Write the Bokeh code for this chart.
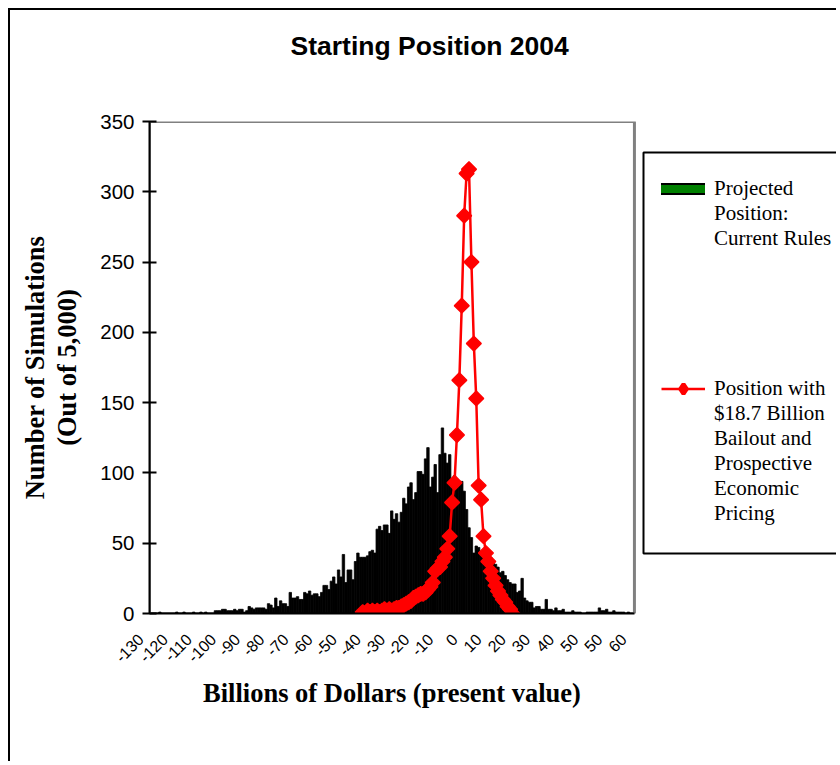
from math import pi
from bokeh.plotting import figure
from bokeh.models import (FixedTicker, Legend, LegendItem, Label, Range1d, BoxAnnotation)
from bokeh.embed import file_html
from bokeh.resources import INLINE

NAN = float("nan")

# ---- data ----
bins = list(range(-123, 73))
current_rules = [
    0, 1, 0, 0, 0, 0, 0, 0, 1, 0, 0, 1, 0, 0, 0, 1, 0, 0, 1, 0,        # -123 .. -104
    1, 0, 0, 0, 2, 2, 2, 3, 3, 2, 2, 2, 3, 2, 3, 3, 1, 2, 5, 4,        # -103 .. -84
    3, 4, 4, 4, 4, 3, 7, 6, 4, 11, 5, 9, 7, 7, 5, 15, 11, 11, 12, 10,  # -83 .. -64
    10, 15, 14, 16, 13, 14, 14, 12, 15, 20, 20, 17, 23, 26, 21, 31,    # -63 .. -48
    26, 42, 22, 31, 31, 24, 37, 43, 40, 40, 40, 41, 44, 45, 43, 60,    # -47 .. -32
    62, 59, 63, 63, 57, 73, 67, 71, 65, 72, 82, 78, 90, 93, 81, 86,    # -31 .. -16
    101, 101, 99, 110, 118, 90, 97, 106, 86, 113, 132, 114, 107, 113, 96,  # -15 .. -1
    98, 92, 94, 94, 87, 74, 61, 54, 43, 48, 47, 44, 42, 42, 40, 40,    # 0 .. 15
    36, 35, 33, 29, 30, 27, 24, 22, 21, 21, 15, 16, 25, 11, 9, 8,      # 16 .. 31
    8, 4, 5, 5, 3, 3, 10, 3, 3, 2, 4, 2, 2, 3, 1, 1,                   # 32 .. 47
    1, 2, 1, 1, 1, 0, 0, 1, 1, 1, 1, 1, 4, 2, 2, 3,                    # 48 .. 63
    1, 1, 2, 1, 1, 1, 1, 0, 1,                                         # 64 .. 72
]
bailout_x = list(range(-38, 25))
bailout_y = [
    1, 0, 2, 1, 2, 1, 2, 1, 2, 3, 2, 3, 2, 3, 4, 4, 5, 6, 7, 8, 9, 11,  # -38 .. -17
    12, 13, 14, 14, 15, 17, 19, 22, 30, 32, 33, 37, 40, 46, 55, 79,     # -16 .. -1
    93, 127, 166, 219, 283, 313, 316, 250, 192, 153, 91, 81, 55, 43,    # 0 .. 13
    37, 30, 25, 20, 16, 13, 10, 8, 5, 3, 0,                             # 14 .. 24
]
tick_values = list(range(-130, 71, 10))
tick_labels = ["-130", "-120", "-110", "-100", "-90", "-80", "-70", "-60", "-50", "-40",
               "-30", "-20", "-10", "0", "10", "20", "30", "40", "50", "50", "60"]
y_ticks = [0, 50, 100, 150, 200, 250, 300, 350]
legend_lines_1 = ["Projected", "Position:", "Current Rules"]
legend_lines_2 = ["Position with", "$18.7 Billion", "Bailout and", "Prospective",
                  "Economic", "Pricing"]

SANS = "Liberation Sans"
SERIF = "Liberation Serif"
PLOT_LO, PLOT_HI = -126.3, 74.5        # x extent of the plotting area
Y_TOP = 350

# the frame runs to the right edge so that the legend (drawn inside it) is not clipped
p = figure(width=828, height=753, output_backend="svg", toolbar_location=None,
           x_range=Range1d(PLOT_LO, 159.0), y_range=Range1d(0, Y_TOP),
           min_border_left=139, min_border_right=0, min_border_top=111,
           min_border_bottom=150, background_fill_color="white",
           border_fill_color="white")
p.styles = {"margin": "8px 0 0 8px",
            "border-left": "2px solid black", "border-top": "2px solid black"}
p.grid.visible = False
p.outline_line_color = None

# grey border of the plotting area
p.add_layout(BoxAnnotation(left=PLOT_LO, right=PLOT_HI, bottom=0, top=Y_TOP,
                           fill_alpha=0, line_color="#808080", line_alpha=1,
                           line_width=3, level="underlay"))

# chart title, placed in the band above the plotting area
p.add_layout(Label(x=141, y=61, x_units="screen", y_units="screen",
                   text="Starting Position 2004", text_align="left",
                   text_baseline="bottom", text_font=SANS, text_font_size="26.5px",
                   text_font_style="bold", text_color="black"), "above")

# histogram bars
bars = p.vbar(x=bins, top=current_rules, width=1.0, fill_color="black",
              line_color="black", line_width=0.8)

line_r = p.line(bailout_x, bailout_y, line_color="#ff0000", line_width=2.5)
pts_r = p.scatter(bailout_x, bailout_y, marker="square", angle=pi / 4, size=10.5,
                  fill_color="#ff0000", line_color="#ff0000", line_width=1.4)

# legend-only proxies (draw nothing in the plot)
sw_edge = p.line([NAN], [NAN], line_color="black", line_width=12, line_cap="square")
sw_fill = p.line([NAN], [NAN], line_color="#008000", line_width=8, line_cap="square")
dia = p.scatter([NAN], [NAN], marker="diamond", size=10, fill_color="#ff0000",
                line_color="#ff0000", line_width=4)
blank = p.line([NAN], [NAN], line_alpha=0)

# axes
xa = p.xaxis[0]
xa.bounds = (PLOT_LO, PLOT_HI)
xa.ticker = FixedTicker(ticks=tick_values)
xa.major_label_overrides = {v: s for v, s in zip(tick_values, tick_labels)}
xa.major_label_orientation = pi / 4
xa.major_label_standoff = 23
xa.major_label_text_font = SANS
xa.major_label_text_font_size = "16px"
xa.major_label_text_color = "black"
xa.major_tick_in = 0
xa.major_tick_out = 0
xa.minor_tick_in = 0
xa.minor_tick_out = 0
xa.axis_line_color = "black"
xa.axis_line_width = 2

ya = p.yaxis[0]
ya.ticker = FixedTicker(ticks=y_ticks)
ya.major_label_text_font = SANS
ya.major_label_text_font_size = "20.5px"
ya.major_label_text_color = "black"
ya.major_label_standoff = 8
ya.major_tick_in = 7
ya.major_tick_out = 7
ya.major_tick_line_width = 2
ya.major_tick_line_color = "black"
ya.minor_tick_in = 0
ya.minor_tick_out = 0
ya.axis_line_color = "black"
ya.axis_line_width = 2
ya.axis_label = "Number of Simulations\n(Out of 5,000)"
ya.axis_label_text_font = SERIF
ya.axis_label_text_font_size = "26.5px"
ya.axis_label_text_font_style = "bold"
ya.axis_label_text_color = "black"
ya.axis_label_text_line_height = 1.07
ya.axis_label_standoff = 15

# first category label lies left of the plotting area in the original
p.add_layout(Label(x=tick_values[0], y=0, text=tick_labels[0], angle=pi / 4,
                   text_align="right", text_baseline="middle", y_offset=-23,
                   text_font=SANS, text_font_size="16px", text_color="black"), "below")
# x-axis title, centred under the plotting area
p.add_layout(Label(x=(PLOT_LO + PLOT_HI) / 2, y=0, text="Billions of Dollars (present value)",
                   text_align="center", text_baseline="middle", y_offset=-79,
                   text_font=SERIF, text_font_size="26.5px", text_font_style="bold",
                   text_color="black"), "below")

# legend box
p.add_layout(BoxAnnotation(left=494, right=720, bottom=60, top=461,
                           left_units="screen", right_units="screen",
                           bottom_units="screen", top_units="screen",
                           fill_color="white", fill_alpha=1,
                           line_color="black", line_alpha=1, line_width=2))


def make_legend(lines, glyphs, loc):
    items = [LegendItem(label=lines[0], renderers=glyphs)]
    items += [LegendItem(label=t, renderers=[blank]) for t in lines[1:]]
    lg = Legend(items=items, location=loc, orientation="vertical")
    lg.glyph_width = 44
    lg.glyph_height = 25
    lg.label_height = 25
    lg.label_standoff = 9
    lg.padding = 0
    lg.spacing = 0
    lg.margin = 0
    lg.label_text_font = SERIF
    lg.label_text_font_size = "21px"
    lg.label_text_color = "black"
    lg.border_line_alpha = 0
    lg.background_fill_alpha = 0
    return lg


p.add_layout(make_legend(legend_lines_1, [sw_edge, sw_fill], (512, 362)))
p.add_layout(make_legend(legend_lines_2, [line_r, dia], (512, 87)))

open("out.html", "w").write(file_html(p, INLINE))
